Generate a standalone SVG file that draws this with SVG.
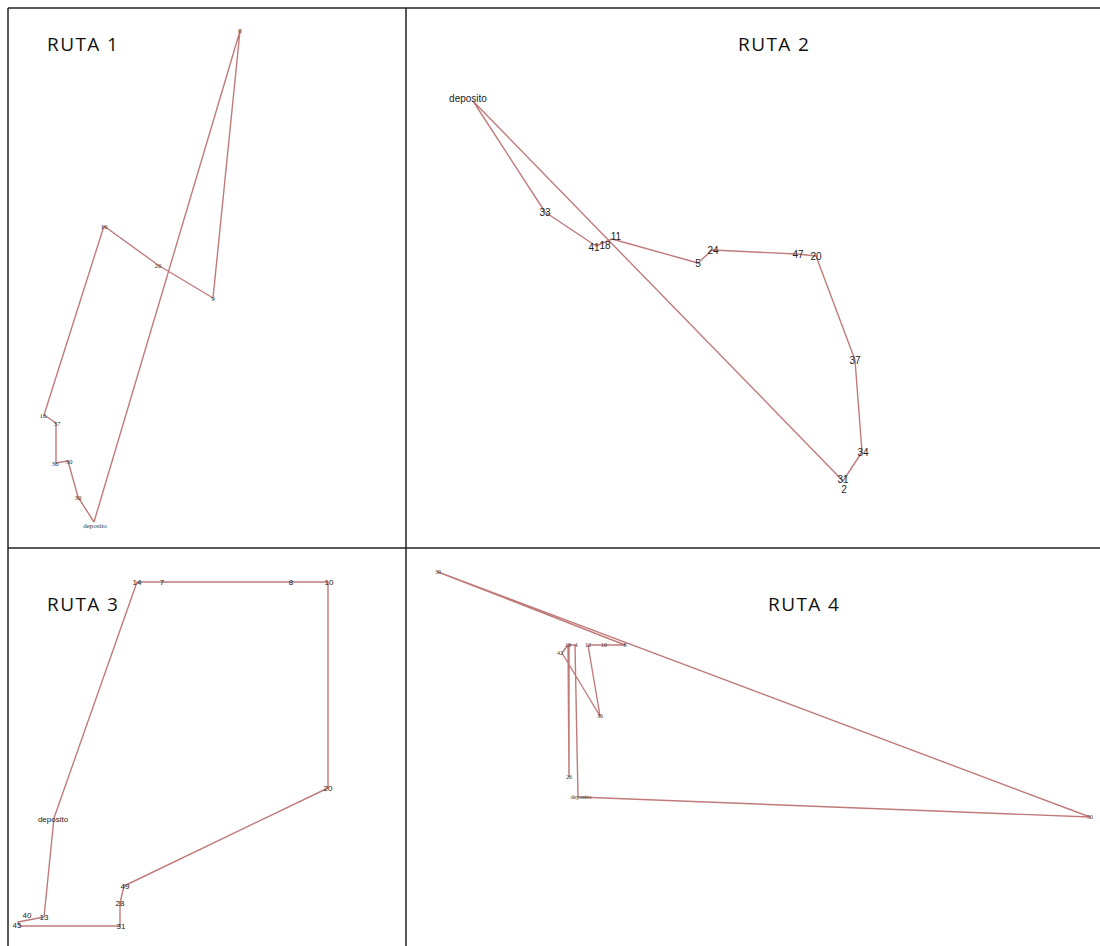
<svg xmlns="http://www.w3.org/2000/svg" width="1100" height="946" viewBox="0 0 1100 946">
<style>
.frame{stroke:#222;stroke-width:1.5;fill:none}
.route{fill:none;stroke:#c17a7a;stroke-width:1.4;stroke-linejoin:round}
.title{font-family:"Open Sans","Liberation Sans",sans-serif;font-size:19px;letter-spacing:1.4px;fill:#111}
.l1{font-family:"Liberation Serif",serif;font-size:7px;fill:#333}
.l2{font-family:"Liberation Sans",sans-serif;font-size:10px;fill:#222}
.l3{font-family:"Liberation Sans",sans-serif;font-size:8px;fill:#222}
.l4{font-family:"Liberation Serif",serif;font-size:6px;fill:#333}
</style>
<rect width="1100" height="946" fill="#fff"/>
<g id="frame">
<line class="frame" x1="8" y1="8" x2="1100" y2="8"/>
<line class="frame" x1="8" y1="8" x2="8" y2="946"/>
<line class="frame" x1="406" y1="8" x2="406" y2="946"/>
<line class="frame" x1="8" y1="548" x2="1100" y2="548"/>
</g>
<g id="connectors">
<polyline class="route" points="94,522 240,31 213,298 158,265 104,226 44,415 56,423 56,463 68,461 78,497 94,522"/>
<polyline class="route" points="473,101 545,212 596,246 612,239 698,263 712,250 797,254 816,256 855,360 862,452 843,481 473,101"/>
<polyline class="route" points="54,818 137,582 162,582 291,582 328,582 328,788 124,886 120,903 120,926 20,926 18,922 44,917 54,818"/>
<polyline class="route" points="578,797 1090,817 438,572 625,645 604,645 588,645 600,716 562,653 568,645 569,777 569,645 575,645 578,797"/>
</g>
<g id="ruta1">
<text class="title" x="47" y="51">RUTA 1</text>
<text class="l1" x="240" y="33" text-anchor="middle">8</text>
<text class="l1" x="213" y="301" text-anchor="middle">9</text>
<text class="l1" x="158" y="268" text-anchor="middle">26</text>
<text class="l1" x="104" y="229" text-anchor="middle">16</text>
<text class="l1" x="43" y="418" text-anchor="middle">16</text>
<text class="l1" x="57" y="426" text-anchor="middle">37</text>
<text class="l1" x="55" y="466" text-anchor="middle">36</text>
<text class="l1" x="69" y="464" text-anchor="middle">30</text>
<text class="l1" x="78" y="500" text-anchor="middle">30</text>
<text class="l1" x="95" y="528" text-anchor="middle">deposito</text>
</g>
<g id="ruta2">
<text class="title" x="738" y="51">RUTA 2</text>
<text class="l2" x="468" y="102" text-anchor="middle">deposito</text>
<text class="l2" x="545" y="216" text-anchor="middle">33</text>
<text class="l2" x="594" y="251" text-anchor="middle">41</text>
<text class="l2" x="605" y="249" text-anchor="middle">18</text>
<text class="l2" x="616" y="240" text-anchor="middle">11</text>
<text class="l2" x="698" y="267" text-anchor="middle">5</text>
<text class="l2" x="713" y="254" text-anchor="middle">24</text>
<text class="l2" x="798" y="258" text-anchor="middle">47</text>
<text class="l2" x="816" y="260" text-anchor="middle">20</text>
<text class="l2" x="855" y="364" text-anchor="middle">37</text>
<text class="l2" x="863" y="456" text-anchor="middle">34</text>
<text class="l2" x="843" y="483" text-anchor="middle">31</text>
<text class="l2" x="844" y="493" text-anchor="middle">2</text>
</g>
<g id="ruta3">
<text class="title" x="47" y="611">RUTA 3</text>
<text class="l3" x="137" y="585" text-anchor="middle">14</text>
<text class="l3" x="162" y="585" text-anchor="middle">7</text>
<text class="l3" x="291" y="585" text-anchor="middle">8</text>
<text class="l3" x="329" y="585" text-anchor="middle">10</text>
<text class="l3" x="328" y="791" text-anchor="middle">20</text>
<text class="l3" x="53" y="822" text-anchor="middle">deposito</text>
<text class="l3" x="125" y="889" text-anchor="middle">49</text>
<text class="l3" x="120" y="906" text-anchor="middle">28</text>
<text class="l3" x="121" y="929" text-anchor="middle">31</text>
<text class="l3" x="27" y="918" text-anchor="middle">40</text>
<text class="l3" x="17" y="928" text-anchor="middle">45</text>
<text class="l3" x="44" y="920" text-anchor="middle">13</text>
</g>
<g id="ruta4">
<text class="title" x="768" y="611">RUTA 4</text>
<text class="l4" x="438" y="574" text-anchor="middle">39</text>
<text class="l4" x="1090" y="819" text-anchor="middle">50</text>
<text class="l4" x="581" y="799" text-anchor="middle">deposito</text>
<text class="l4" x="560" y="655" text-anchor="middle">42</text>
<text class="l4" x="568" y="647" text-anchor="middle">18</text>
<text class="l4" x="576" y="647" text-anchor="middle">4</text>
<text class="l4" x="588" y="647" text-anchor="middle">12</text>
<text class="l4" x="604" y="647" text-anchor="middle">10</text>
<text class="l4" x="625" y="647" text-anchor="middle">8</text>
<text class="l4" x="600" y="718" text-anchor="middle">36</text>
<text class="l4" x="569" y="779" text-anchor="middle">26</text>
</g>
</svg>
